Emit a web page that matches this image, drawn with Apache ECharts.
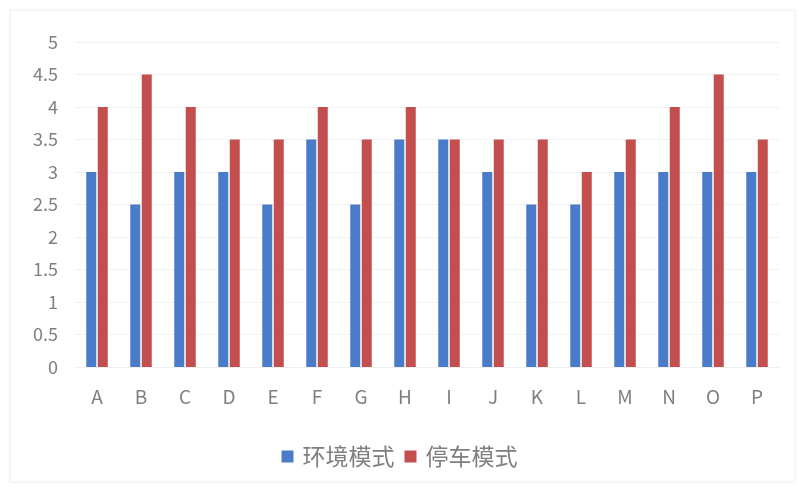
<!DOCTYPE html>
<html>
<head>
<meta charset="utf-8">
<script src="https://cdn.jsdelivr.net/npm/echarts@6/dist/echarts.min.js"></script>
<style>
  html, body { margin: 0; padding: 0; background: #fff; }
  #chart { width: 799px; height: 488px; }
</style>
</head>
<body>
<div id="chart"></div>
<script>
var categories = ["A", "B", "C", "D", "E", "F", "G", "H", "I", "J", "K", "L", "M", "N", "O", "P"];
var envValues = [3, 2.5, 3, 3, 2.5, 3.5, 2.5, 3.5, 3.5, 3, 2.5, 2.5, 3, 3, 3, 3];
var parkValues = [4, 4.5, 4, 3.5, 3.5, 4, 3.5, 4, 3.5, 3.5, 3.5, 3, 3.5, 4, 4.5, 3.5];
var seriesNames = ["环境模式", "停车模式"];

var chart = echarts.init(document.getElementById('chart'));

var option = {
  animation: false,
  textStyle: { fontFamily: '"Noto Sans CJK SC", "Open Sans", sans-serif' },
  graphic: [{
    type: 'rect',
    shape: { x: 10, y: 10, width: 785, height: 472 },
    style: { fill: 'none', stroke: '#ececec', lineWidth: 1 }
  }],
  grid: {
    left: 75,
    right: 20,
    top: 42,
    bottom: 121
  },
  legend: {
    top: 440,
    left: 'center',
    itemWidth: 12,
    itemHeight: 12,
    itemGap: 10,
    icon: 'rect',
    textStyle: { color: '#7f7f7f', fontSize: 23, padding: [0, 0, 0, 4] },
    data: seriesNames
  },
  xAxis: {
    type: 'category',
    data: categories,
    axisLine: { lineStyle: { color: '#f0f0f0' } },
    axisTick: { show: false },
    axisLabel: { color: '#7f7f7f', fontSize: 19, margin: 20 }
  },
  yAxis: {
    type: 'value',
    min: 0,
    max: 5,
    interval: 0.5,
    axisLine: { show: false },
    axisTick: { show: false },
    splitLine: { lineStyle: { color: '#f2f2f2' } },
    axisLabel: { color: '#7f7f7f', fontSize: 18, margin: 17 }
  },
  series: [{
    name: seriesNames[0],
    type: 'bar',
    data: envValues,
    barWidth: 10,
    barGap: '15%',
    itemStyle: { color: '#4a7bc8' }
  }, {
    name: seriesNames[1],
    type: 'bar',
    data: parkValues,
    barWidth: 10,
    barGap: '15%',
    itemStyle: { color: '#c44d4d' }
  }]
};

chart.setOption(option);
</script>
</body>
</html>
